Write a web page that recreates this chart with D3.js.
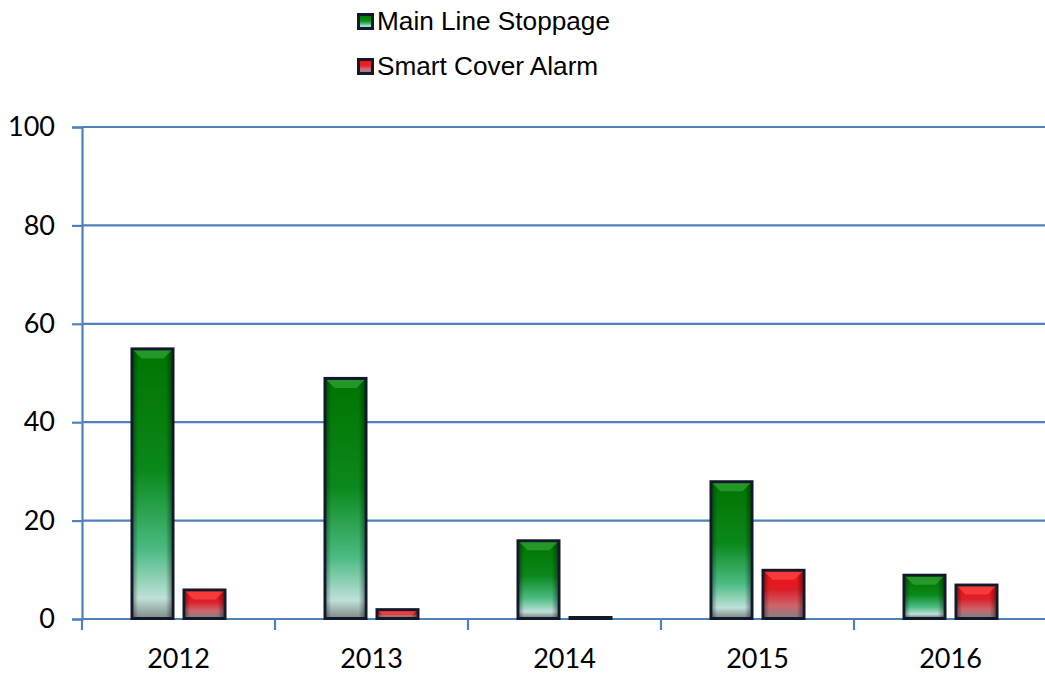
<!DOCTYPE html>
<html><head><meta charset="utf-8">
<script src="https://cdn.jsdelivr.net/npm/d3@7"></script>
<style>body{margin:0;background:#fff}svg{display:block}</style>
</head><body>
<script>
const years = ["2012","2013","2014","2015","2016"];
const seriesNames = ["Main Line Stoppage","Smart Cover Alarm"];
const mainLine = [55,49,16,28,9];
const smartCover = [6,2,0,10,7];
const yTicks = [0,20,40,60,80,100];

const W=1045,H=673;
const m={l:82,r:-2,t:127,b:54};
const svg=d3.select("body").append("svg").attr("width",W).attr("height",H);
const defs=svg.append("defs");
function grad(id,stops,x2,y2){
  const g=defs.append("linearGradient").attr("id",id).attr("x1",0).attr("y1",0).attr("x2",x2).attr("y2",y2);
  stops.forEach(s=>g.append("stop").attr("offset",s[0]).attr("stop-color",s[1]).attr("stop-opacity",s[2]===undefined?1:s[2]));
}
grad("gG",[[0,"#007a00"],[0.45,"#0c8f1c"],[0.75,"#4fc58a"],[0.93,"#c8ece4"],[1,"#8d9896"]],0,1);
grad("gR",[[0,"#ff1010"],[0.4,"#e8202a"],[0.75,"#d86a70"],[1,"#8f8488"]],0,1);
grad("side",[[0,"#000",0.35],[0.12,"#000",0.05],[0.85,"#000",0.05],[1,"#000",0.4]],1,0);

const x=d3.scaleBand().domain(years).range([m.l,W-m.r]);
const y=d3.scaleLinear().domain([0,100]).range([H-m.b,m.t]);
const tickFont="Lato, 'Open Sans', sans-serif";

// gridlines
svg.append("g").selectAll("line").data(yTicks).join("line")
  .attr("x1",m.l).attr("x2",W).attr("y1",d=>y(d)).attr("y2",d=>y(d))
  .attr("stroke","#4f81bd").attr("stroke-width",2.2);

// y axis
const ya=svg.append("g").attr("transform",`translate(${m.l},0)`)
  .call(d3.axisLeft(y).tickValues(yTicks).tickSize(10).tickPadding(17));
ya.select(".domain").attr("stroke","#4f81bd").attr("stroke-width",2.2);
ya.selectAll(".tick line").attr("stroke","#4f81bd").attr("stroke-width",2.2);
ya.selectAll("text").attr("font-family",tickFont).attr("font-size",27).attr("fill","#000");

// x axis
const xa=svg.append("g").attr("transform",`translate(0,${y(0)})`)
  .call(d3.axisBottom(x).tickSize(0).tickPadding(30));
xa.select(".domain").remove();
xa.selectAll("text").attr("font-family",tickFont).attr("font-size",27).attr("fill","#000");
svg.append("g").selectAll("line").data(years.map((d,i)=>i).concat([years.length])).join("line")
  .attr("x1",i=>m.l+i*x.step()).attr("x2",i=>m.l+i*x.step())
  .attr("y1",y(0)).attr("y2",y(0)+11).attr("stroke","#4f81bd").attr("stroke-width",2.2);

// bars
const bw=44, gap=8;
const data=[];
years.forEach((yr,i)=>{
  data.push({yr,v:mainLine[i],s:0});
  data.push({yr,v:smartCover[i],s:1});
});
function bx(d){const c=x(d.yr)+x.bandwidth()/2; return d.s===0?c-gap/2-bw:c+gap/2;}
const bars=svg.append("g").selectAll("g").data(data).join("g");
bars.each(function(d){
  const g=d3.select(this);
  const x0=bx(d), top=y(d.v)-1, bot=y(0)+1;
  const h=Math.max(bot-top,4);
  const tp=bot-h;
  g.append("rect").attr("x",x0).attr("y",tp).attr("width",bw).attr("height",h).attr("fill","#101a2b");
  const ix=x0+3, iy=tp+3, iw=bw-6, ih=Math.max(h-6,0);
  if(ih>0){
    g.append("rect").attr("x",ix).attr("y",iy).attr("width",iw).attr("height",ih).attr("fill",d.s===0?"url(#gG)":"url(#gR)");
    g.append("rect").attr("x",ix).attr("y",iy).attr("width",iw).attr("height",ih).attr("fill","url(#side)");
    const bev=Math.min(8,ih/2);
    g.append("path").attr("d",`M${ix},${iy}L${ix+iw},${iy}L${ix+iw-bev},${iy+bev}L${ix+bev},${iy+bev}Z`)
      .attr("fill",d.s===0?"#3fb54a":"#ff5a5a").attr("opacity",0.55);
  }
});

// legend
const lg=svg.append("g");
seriesNames.forEach((n,i)=>{
  const ly=13+i*45;
  lg.append("rect").attr("x",357).attr("y",ly).attr("width",17).attr("height",17).attr("fill","#101a2b");
  lg.append("rect").attr("x",360).attr("y",ly+3).attr("width",11).attr("height",11).attr("fill",i===0?"url(#gG)":"url(#gR)");
  lg.append("text").attr("x",377).attr("y",ly+17).text(n)
    .attr("font-family","'Liberation Sans', Arial, sans-serif").attr("font-size",26.2).attr("fill","#000");
});
</script>
</body></html>
